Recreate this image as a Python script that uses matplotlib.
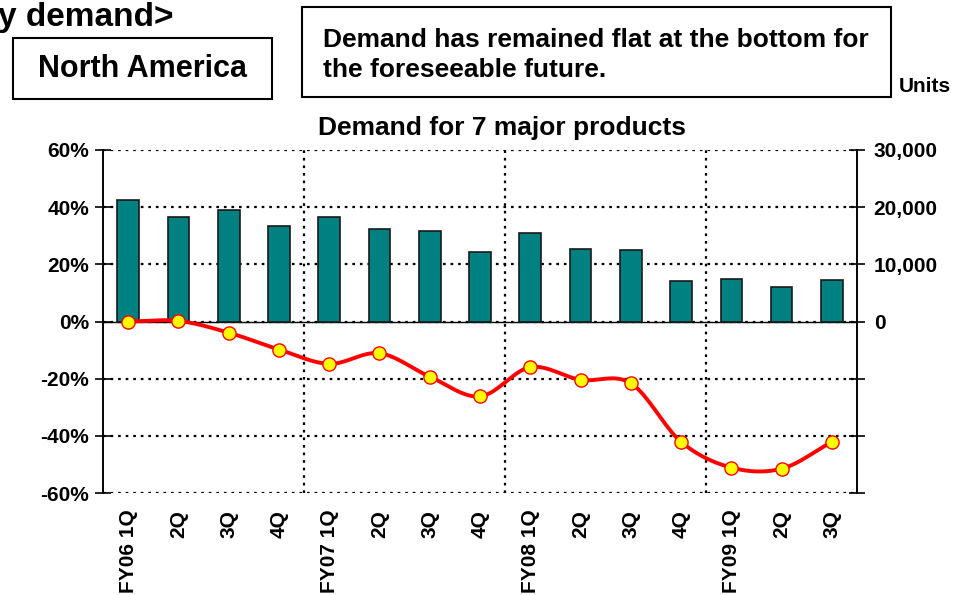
import matplotlib
matplotlib.use('Agg')
import matplotlib.pyplot as plt
import matplotlib.ticker as ticker
from matplotlib.patches import Rectangle
import numpy as np

# data
categories = ['FY06 1Q', '2Q', '3Q', '4Q', 'FY07 1Q', '2Q', '3Q', '4Q',
              'FY08 1Q', '2Q', '3Q', '4Q', 'FY09 1Q', '2Q', '3Q']
units = [21200, 18300, 19500, 16700, 18300, 16100, 15800, 12200,
         15400, 12700, 12500, 7000, 7400, 6100, 7200]
yoy_pct = [0.0, 0.2, -3.9, -9.8, -14.8, -11.1, -19.3, -26.2,
           -16.0, -20.4, -21.6, -42.1, -51.1, -51.5, -42.1]
pct_ticks = [-60, -40, -20, 0, 20, 40, 60]
unit_ticks = [-30000, -20000, -10000, 0, 10000, 20000, 30000]
year_breaks = [3.5, 7.5, 11.5]

plt.rcParams['font.family'] = ['Liberation Sans', 'DejaVu Sans']
plt.rcParams['font.weight'] = 'bold'

teal = '#008080'
dot = (0, (1.2, 2.2))


def smooth(x, y, n=20):
    # catmull-rom curve through the points (drawing only)
    x = np.asarray(x, float)
    y = np.asarray(y, float)
    px = np.concatenate([[2 * x[0] - x[1]], x, [2 * x[-1] - x[-2]]])
    py = np.concatenate([[2 * y[0] - y[1]], y, [2 * y[-1] - y[-2]]])
    xs, ys = [], []
    t = np.linspace(0, 1, n, endpoint=False)
    for i in range(1, len(px) - 2):
        for p, out in ((px, xs), (py, ys)):
            p0, p1, p2, p3 = p[i - 1], p[i], p[i + 1], p[i + 2]
            out.extend(0.5 * ((2 * p1) + (-p0 + p2) * t
                              + (2 * p0 - 5 * p1 + 4 * p2 - p3) * t ** 2
                              + (-p0 + 3 * p1 - 3 * p2 + p3) * t ** 3))
    xs.append(x[-1])
    ys.append(y[-1])
    return np.array(xs), np.array(ys)


fig = plt.figure(figsize=(9.72, 5.95), dpi=100)
ax = fig.add_axes([0.106, 0.1714, 0.7757, 0.5765])
ax2 = ax.twinx()
ax.set_zorder(ax2.get_zorder() + 1)
ax.patch.set_visible(False)

x = np.arange(len(categories))

# bars on the units axis
ax2.bar(x, units, width=0.43, color=teal, edgecolor='#1a1a1a', linewidth=1.2, zorder=3)
ax2.set_ylim(-30000, 30000)
ax2.set_yticks(unit_ticks)
ax2.yaxis.set_major_formatter(ticker.FuncFormatter(
    lambda v, p: '{:,.0f}'.format(v) if v >= 0 else ''))
ax2.set_axisbelow(True)
ax2.yaxis.grid(True, linestyle=dot, linewidth=1.6, color='black')
for b in year_breaks:
    ax2.axvline(b, linestyle=dot, linewidth=1.6, color='black', zorder=1)
ax2.axhline(0, color='black', linewidth=1.0, zorder=2)

# line on the percent axis
sx, sy = smooth(x, yoy_pct)
ax.plot(sx, sy, color='red', linewidth=2.8, zorder=4)
ax.plot(x, yoy_pct, linestyle='none', marker='o', markersize=9.5,
        markerfacecolor='yellow', markeredgecolor='red', markeredgewidth=1.0, zorder=5)
ax.set_ylim(-60, 60)
ax.set_yticks(pct_ticks)
ax.yaxis.set_major_formatter(ticker.FuncFormatter(lambda v, p: '{:.0f}%'.format(v)))
ax.set_xlim(-0.5, len(categories) - 0.5)
ax.set_xticks(x)
ax.set_xticklabels(categories, rotation=90, fontsize=15, fontweight='bold')

for a in (ax, ax2):
    a.spines['top'].set_visible(False)
    a.spines['bottom'].set_visible(False)
    a.spines['left'].set_linewidth(1.2)
    a.spines['right'].set_linewidth(1.2)
ax.tick_params(axis='x', length=0, pad=12)
ax.tick_params(axis='y', direction='inout', length=12, width=1.2, labelsize=15, pad=4)
ax2.tick_params(axis='y', direction='inout', length=12, width=1.2, labelsize=15, pad=6)
for lab in ax.get_yticklabels() + ax2.get_yticklabels():
    lab.set_fontweight('bold')

# title and header boxes
fig.text(502 / 972, 1 - 128 / 595, 'Demand for 7 major products', ha='center', va='center',
         fontsize=19, fontweight='bold')
fig.text(-2 / 972, 1 - 26 / 595, 'y demand>', ha='left', va='baseline',
         fontsize=24, fontweight='bold')

fig.patches.append(Rectangle((13 / 972, 1 - 99 / 595), 259 / 972, 61 / 595,
                             transform=fig.transFigure, fill=False, edgecolor='black', linewidth=1.5))
fig.text(142 / 972, 1 - 69 / 595, 'North America', ha='center', va='center',
         fontsize=22, fontweight='bold')

fig.patches.append(Rectangle((302 / 972, 1 - 97 / 595), 589 / 972, 90 / 595,
                             transform=fig.transFigure, fill=False, edgecolor='black', linewidth=1.5))
fig.text(323 / 972, 1 - 55 / 595, 'Demand has remained flat at the bottom for\nthe foreseeable future.',
         ha='left', va='center', fontsize=19, fontweight='bold', linespacing=1.3)

fig.text(899 / 972, 1 - 87 / 595, 'Units', ha='left', va='center', fontsize=15,
         fontweight='bold')

plt.savefig('out.png', dpi=100)
